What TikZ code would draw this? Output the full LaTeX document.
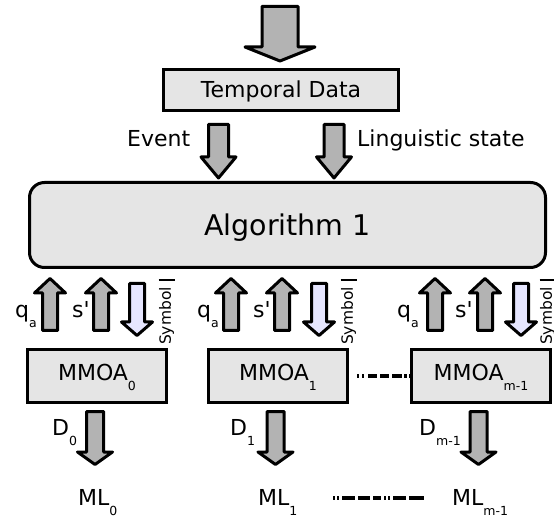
\documentclass[tikz,border=0pt]{standalone}
\usepackage{fontspec}
\usepackage{graphicx}
\newfontfamily\dv{DejaVu Sans}
\definecolor{boxgray}{HTML}{E5E5E5}
\definecolor{arrowgray}{HTML}{B3B3B3}
\definecolor{lav}{HTML}{E6E6FF}
\newcommand\sbs[1]{\raisebox{-10pt}{\fontsize{12.5}{12.5}\selectfont #1}}
% block arrow: cx, y start, y head base, y tip, shaft half width, head half width, fill
\newcommand\blkarrow[7]{\draw[blk,fill=#7] ({#1-#5},#2) -- ({#1+#5},#2) -- ({#1+#5},#3) -- ({#1+#6},#3) -- (#1,#4) -- ({#1-#6},#3) -- ({#1-#5},#3) -- cycle;}
\begin{document}
\begin{tikzpicture}[x=1pt,y=-1pt,
  font=\dv\fontsize{22}{24}\selectfont,
  blk/.style={line width=3pt,line join=round},
  box/.style={draw,line width=3pt,fill=boxgray,inner sep=0pt},
  lbl/.style={inner sep=0pt,anchor=base west},
  symlbl/.style={anchor=north,inner sep=0pt,font=\dv\fontsize{15.5}{15.5}\selectfont},
  dotdash/.style={line width=3.5pt,dash pattern=on 2pt off 3pt on 2pt off 4pt on 9pt off 3pt on 9pt off 3pt on 10pt},
  dotdashb/.style={line width=3.5pt,dash pattern=on 2pt off 2pt on 2pt off 3pt on 13pt off 3pt on 12pt off 3pt on 8pt off 3pt on 2pt off 2pt on 2pt off 3pt on 13pt off 3pt on 15pt}]
\useasboundingbox (0,0) rectangle (554,518);

% boxes
\node[box,minimum width=235pt,minimum height=41pt,text height=16pt,text depth=0pt] (td) at (281,90) {Temporal Data};
\node[box,rounded corners=15pt,minimum width=516pt,minimum height=85pt,text height=20.4pt,text depth=0pt,font=\dv\fontsize{28.5}{30}\selectfont] (alg) at (287.5,225) {Algorithm 1};
\node[box,minimum width=139pt,minimum height=53pt,text height=16pt,text depth=6pt] (m0) at (97,376) {MMOA\sbs{0}};
\node[box,minimum width=139pt,minimum height=53pt,text height=16pt,text depth=6pt] (m1) at (278,376) {MMOA\sbs{1}};
\node[box,minimum width=139pt,minimum height=53pt,text height=16pt,text depth=6pt] (m2) at (481,376) {MMOA\sbs{m-1}};

% top arrows
\blkarrow{280}{6.5}{47}{61}{18}{35}{arrowgray}
\blkarrow{218.5}{124.5}{157}{178}{10}{17.5}{arrowgray}
\blkarrow{334}{124.5}{157}{178}{10}{17.5}{arrowgray}
\node[lbl] (ev) at (127,147) {Event};
\node[lbl] (ls) at (357,147) {Linguistic state};

% group arrows between algorithm and MMOA boxes
\blkarrow{50}{330.5}{293}{278.5}{7.5}{15.5}{arrowgray}
\blkarrow{101}{330.5}{293}{278.5}{7.5}{15.5}{arrowgray}
\blkarrow{137}{283.5}{322}{335.5}{7.5}{15.5}{lav}
\blkarrow{231}{330.5}{293}{278.5}{7.5}{15.5}{arrowgray}
\blkarrow{282}{330.5}{293}{278.5}{7.5}{15.5}{arrowgray}
\blkarrow{319}{283.5}{322}{335.5}{7.5}{15.5}{lav}
\blkarrow{435}{330.5}{293}{278.5}{7.5}{15.5}{arrowgray}
\blkarrow{485}{330.5}{293}{278.5}{7.5}{15.5}{arrowgray}
\blkarrow{521}{283.5}{322}{335.5}{7.5}{15.5}{lav}

\node[lbl] (q0) at (15,318) {q\sbs{a}};
\node[lbl] (s0) at (72,318) {s'};
\node[lbl] (q1) at (197,318) {q\sbs{a}};
\node[lbl] (s1) at (253,318) {s'};
\node[lbl] (q2) at (397,318) {q\sbs{a}};
\node[lbl] (s2) at (455,318) {s'};

\coordinate (b0) at (166.5,280);
\coordinate (b1) at (348.5,280);
\coordinate (b2) at (547.5,280);
\node[symlbl] (y0) at (166.5,287) {\rotatebox{90}{Symbol}};
\node[symlbl] (y1) at (348.5,287) {\rotatebox{90}{Symbol}};
\node[symlbl] (y2) at (547.5,287) {\rotatebox{90}{Symbol}};
\draw[line width=2pt] ([xshift=-8pt]b0) -- ([xshift=8pt]b0);
\draw[line width=2pt] ([xshift=-8pt]b1) -- ([xshift=8pt]b1);
\draw[line width=2pt] ([xshift=-8pt]b2) -- ([xshift=8pt]b2);

% dashed link between MMOA boxes
\draw[dotdash] ([xshift=8pt]m1.east) -- (m2.west);

% D arrows
\blkarrow{95}{411.5}{452}{464.5}{8.5}{17.5}{arrowgray}
\blkarrow{275.5}{411.5}{452}{464.5}{8.5}{17.5}{arrowgray}
\blkarrow{478.5}{411.5}{452}{464.5}{8.5}{17.5}{arrowgray}
\node[lbl] (d0) at (52,435) {D\sbs{0}};
\node[lbl] (d1) at (230,435) {D\sbs{1}};
\node[lbl] (d2) at (419,435) {D\sbs{m-1}};

% ML labels
\node[lbl] (ml0) at (78,505) {ML\sbs{0}};
\node[lbl] (ml1) at (258,505) {ML\sbs{1}};
\node[lbl] (ml2) at (452,505) {ML\sbs{m-1}};
\coordinate (dl1) at (333,498);
\coordinate (dl2) at (425,498);
\draw[dotdashb] (dl1) -- (dl2);
\end{tikzpicture}
\end{document}
